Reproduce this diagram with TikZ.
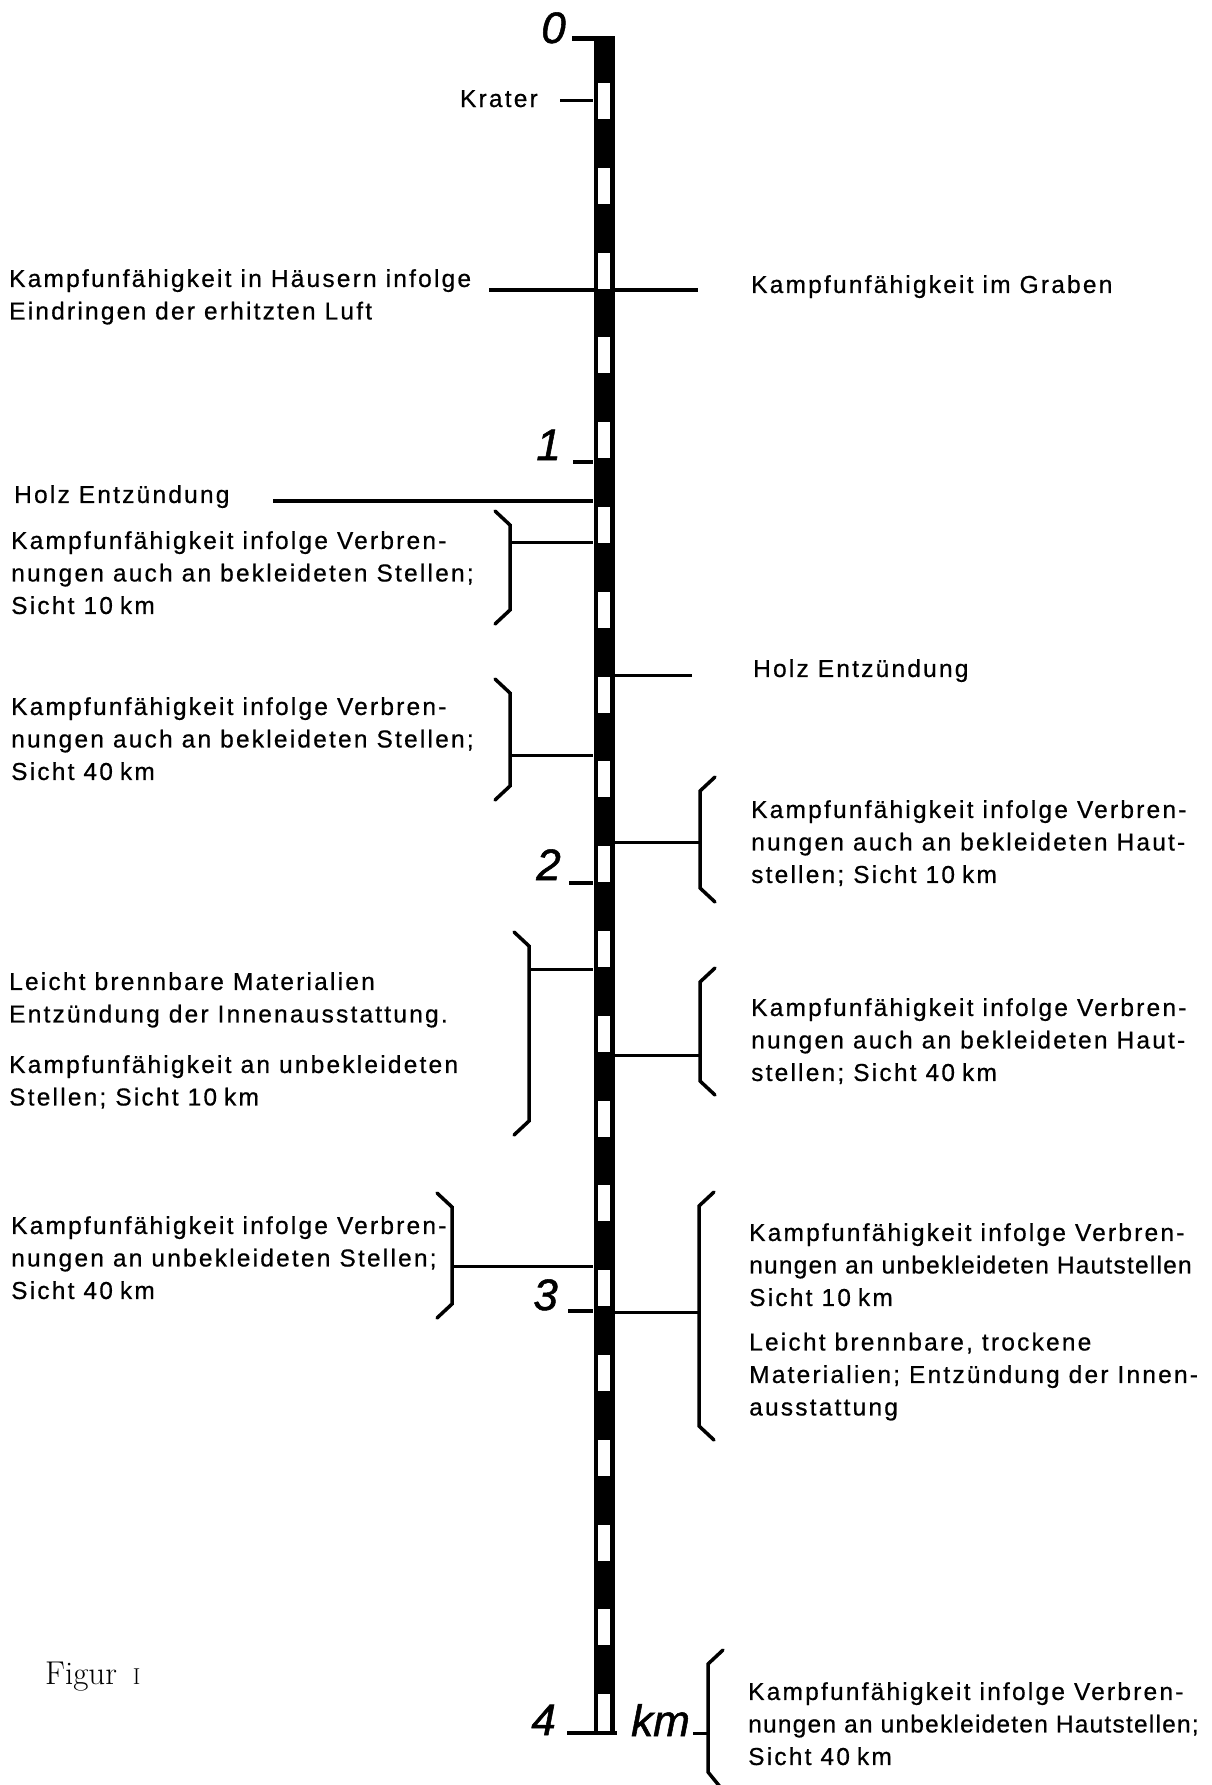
\documentclass[tikz,border=0pt]{standalone}
\usepackage{fontspec}
\newfontfamily\labfont[LetterSpace=9,FakeBold=0.6]{Liberation Sans}
\newfontfamily\labtight[LetterSpace=5,FakeBold=0.6]{Liberation Sans}
\newfontfamily\handfont[FakeBold=1.2]{Liberation Sans}
\newcommand\bkL[5]{%
  \draw[brk] ({#2-15},#3) -- (#2,{#3+14}) -- (#2,{#4-14}) -- ({#2-15},#4);
  \coordinate (#1) at (#2,#5);
  \draw[conn] (#1) -- (#1 -| bar.west);}
\newcommand\bkR[5]{%
  \draw[brk] ({#2+15},#3) -- (#2,{#3+14}) -- (#2,{#4-14}) -- ({#2+15},#4);
  \coordinate (#1) at (#2,#5);
  \draw[conn] (#1) -- (#1 -| bar.east);}
\newcommand\kmsp{\hspace{7pt}}
\begin{document}
\begin{tikzpicture}[x=1pt,y=-1pt,
  lbl/.style={font=\labfont\fontsize{24.5}{32.5}\selectfont, anchor=north west, inner sep=0pt, align=left},
  digit/.style={font=\handfont\itshape\fontsize{44}{44}\selectfont, inner sep=0pt, anchor=base east},
  conn/.style={line width=3pt},
  brk/.style={line width=3.5pt, line join=miter, line cap=round},
  tick/.style={line width=4pt},
]
\fill[white] (0,0) rectangle (1212,1785);
\useasboundingbox (0,0) rectangle (1212,1785);

% long line crossing the bar
\coordinate (hA1) at (489,290);
\coordinate (hA2) at (698,290);
\draw[tick] (hA1) -- (hA2);

% the scale bar
\node[fill=black, inner sep=0pt, minimum width=21pt, minimum height=1699pt, anchor=north] (bar) at (604,36) {};
\foreach \k in {0,...,19} {
  \fill[white] (598,{83+84.8*\k}) rectangle (610,{119+84.8*\k});
}
\fill[white] (598,1725) rectangle (610,1731);
\coordinate (base4) at (567,1733);
\coordinate (base4r) at (617,1733);
\draw[tick] (base4) -- (base4r);

% ticks and numbers
\coordinate (t0) at (572,38.5);
\draw[line width=5pt] (t0) -- (t0 -| bar.center);
\coordinate (t1) at (573,462);
\draw[tick] (t1) -- (t1 -| bar.west);
\coordinate (t2) at (569,883);
\draw[tick] (t2) -- (t2 -| bar.west);
\coordinate (t3) at (568,1311);
\draw[tick] (t3) -- (t3 -| bar.west);
\node[digit] (n0) at (566,43) {0};
\node[digit] (n1) at (561,460) {1};
\node[digit] (n2) at (561,880) {2};
\node[digit] (n3) at (558,1310) {3};
\node[digit] (n4) at (556,1735) {4};
\node[font=\handfont\itshape\fontsize{44}{44}\selectfont, inner sep=0pt, anchor=base west] (km) at (631,1736) {km};

% Krater
\node[lbl, anchor=base east] (krater) at (538,107) {Krater};
\coordinate (kr) at (560,100);
\draw[conn] (kr) -- (kr -| bar.west);

% labels
\node[lbl] (tA) at (9,269) {Kampfunfähigkeit in Häusern infolge\\Eindringen der erhitzten Luft};
\node[lbl] (tAr) at (751,275) {Kampfunfähigkeit im Graben};

\node[lbl] (tB) at (14,485) {Holz Entzündung};
\coordinate (hB) at (273,501);
\draw[tick] (hB) -- (hB -| bar.west);

\node[lbl] (tC) at (11,531) {Kampfunfähigkeit infolge Verbren-\\nungen auch an bekleideten Stellen;\\Sicht 10\kmsp km};
\bkL{bC}{510}{511}{624}{542}

\node[lbl] (tD) at (11,697) {Kampfunfähigkeit infolge Verbren-\\nungen auch an bekleideten Stellen;\\Sicht 40\kmsp km};
\bkL{bD}{510}{679}{800}{755}

\node[lbl] (tE) at (753,659) {Holz Entzündung};
\coordinate (hE) at (692,675);
\draw[conn] (hE) -- (hE -| bar.east);

\node[lbl] (tF) at (751,800) {Kampfunfähigkeit infolge Verbren-\\nungen auch an bekleideten Haut-\\stellen; Sicht 10\kmsp km};
\bkR{bF}{700}{777}{902}{842}

\node[lbl] (tG) at (9,972) {Leicht brennbare Materialien\\Entzündung der Innenausstattung.\\[18pt]Kampfunfähigkeit an unbekleideten\\Stellen; Sicht 10\kmsp km};
\bkL{bG}{529}{932}{1135}{969}

\node[lbl] (tH) at (751,998) {Kampfunfähigkeit infolge Verbren-\\nungen auch an bekleideten Haut-\\stellen; Sicht 40\kmsp km};
\bkR{bH}{700}{968}{1095}{1055}

\node[lbl] (tI) at (11,1216) {Kampfunfähigkeit infolge Verbren-\\nungen an unbekleideten Stellen;\\Sicht 40\kmsp km};
\bkL{bI}{452}{1193}{1318}{1266}

\node[lbl] (tJ) at (749,1223) {Kampfunfähigkeit infolge Verbren-\\{\labtight nungen an unbekleideten Hautstellen}\\Sicht 10\kmsp km\\[12pt]Leicht brennbare, trockene\\Materialien; Entzündung der Innen-\\ausstattung};
\bkR{bJ}{699}{1192}{1440}{1312}

\node[lbl] (tL) at (748,1682) {Kampfunfähigkeit infolge Verbren-\\{\labtight nungen an unbekleideten Hautstellen;}\\Sicht 40\kmsp km};
\draw[brk] (723,1650) -- (708,1664) -- (708,1772) -- (721,1788);
\coordinate (bL) at (708,1733);
\coordinate (kmE) at (693,1733);
\draw[conn] (kmE) -- (bL);

\node[font=\fontsize{33}{36}\selectfont\addfontfeatures{LetterSpace=10}, anchor=base west, inner sep=0pt] (fig) at (45,1684) {Figur\hspace{6pt} {\fontsize{23}{26}\selectfont I}};
\end{tikzpicture}
\end{document}
